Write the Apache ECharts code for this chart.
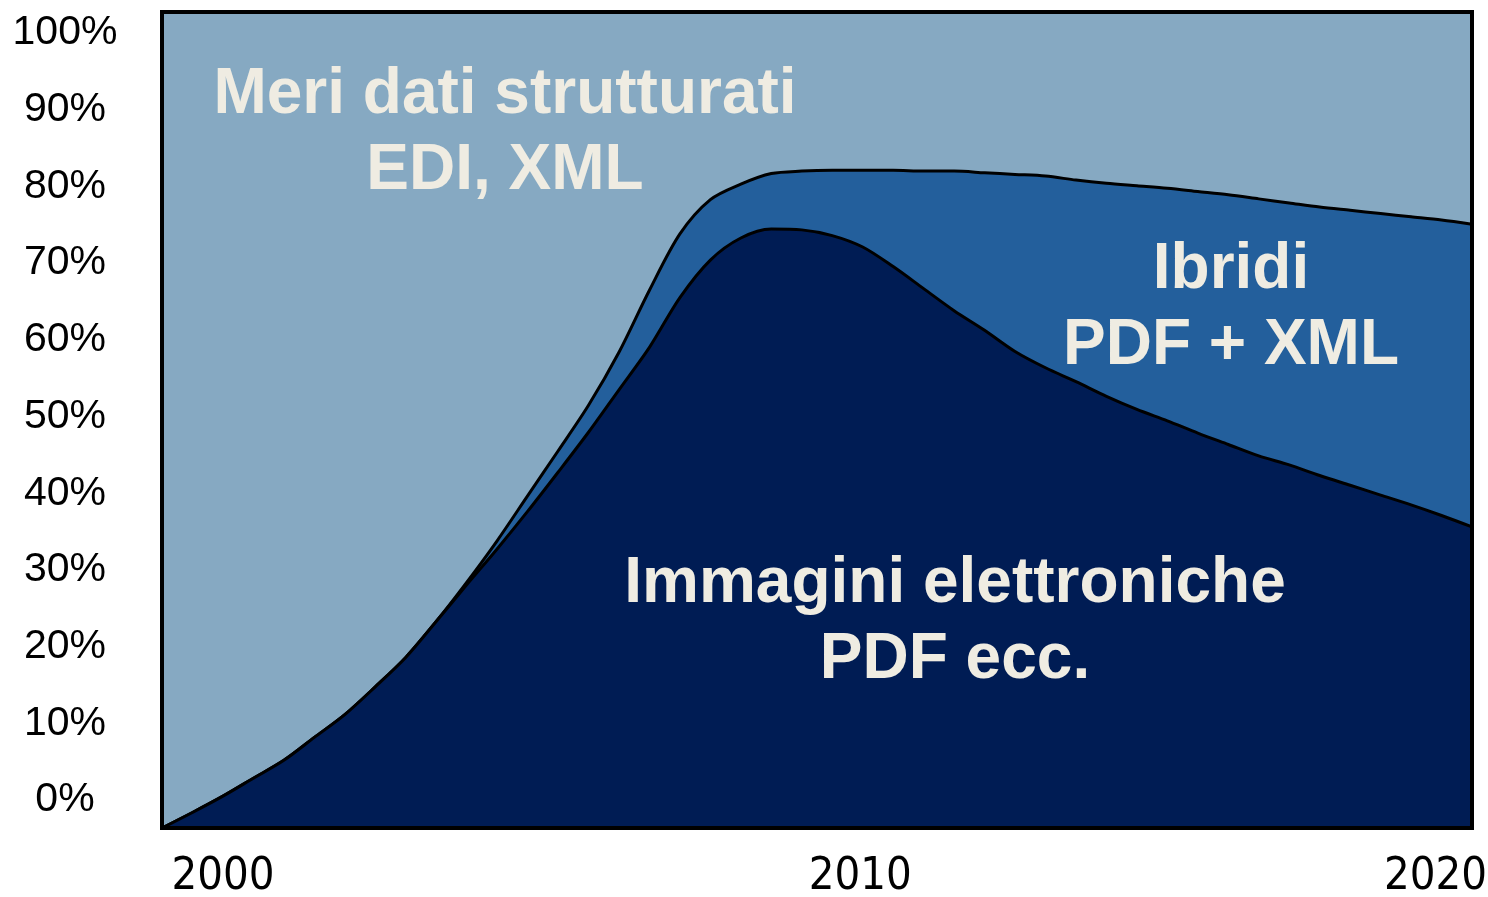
<!DOCTYPE html>
<html>
<head>
<meta charset="utf-8">
<title>Fatture elettroniche</title>
<script src="https://cdn.jsdelivr.net/npm/echarts@6.0.0/dist/echarts.min.js"></script>
<style>
  html, body { margin: 0; padding: 0; background: #fff; }
  #chart { width: 1488px; height: 897px; }
</style>
</head>
<body>
<div id="chart"></div>
<script>
// anni (asse x), passo di mezzo anno
const years = ['1999', '1999.5', '2000', '2000.5', '2001', '2001.5', '2002', '2002.5', '2003', '2003.5',
  '2004', '2004.5', '2005', '2005.5', '2006', '2006.5', '2007', '2007.5', '2008', '2008.5',
  '2009', '2009.5', '2010', '2010.5', '2011', '2011.5', '2012', '2012.5', '2013', '2013.5',
  '2014', '2014.5', '2015', '2015.5', '2016', '2016.5', '2017', '2017.5', '2018', '2018.5',
  '2019', '2019.5', '2020', '2020.5']

// quote in %
const immagini = [0, 1.9, 3.9, 6.1, 8.3, 11.1, 13.9, 17.3, 20.9, 25.3,
  29.8, 34.2, 38.8, 43.6, 48.5, 53.7, 58.9, 65.0, 69.6, 72.3,
  73.4, 73.3, 72.6, 71.2, 68.8, 66.1, 63.4, 61.0, 58.4, 56.4,
  54.7, 52.9, 51.3, 49.9, 48.4, 47.0, 45.6, 44.5, 43.2, 42.0,
  40.8, 39.6, 38.3, 36.9]

const ibridi = [0, 0, 0, 0, 0, 0, 0, 0, 0, 0,
  0.3, 1.0, 1.9, 2.6, 3.3, 4.6, 7.0, 7.8, 7.4, 6.6,
  6.8, 7.2, 8.0, 9.4, 11.8, 14.4, 17.1, 19.3, 21.7, 23.5,
  24.7, 26.1, 27.4, 28.5, 29.6, 30.6, 31.5, 32.1, 32.9, 33.7,
  34.5, 35.3, 36.2, 37.1]

const strutturati = [100, 98.1, 96.1, 93.9, 91.7, 88.9, 86.1, 82.7, 79.1, 74.7,
  69.9, 64.8, 59.3, 53.8, 48.2, 41.7, 34.1, 27.2, 23.0, 21.1,
  19.8, 19.5, 19.4, 19.4, 19.4, 19.5, 19.5, 19.7, 19.9, 20.1,
  20.6, 21.0, 21.3, 21.6, 22.0, 22.4, 22.9, 23.4, 23.9, 24.3,
  24.7, 25.1, 25.5, 26.0]

const yearTicks = ['2000', '2010', '2020']
const percentTicks = [0, 10, 20, 30, 40, 50, 60, 70, 80, 90, 100]

const colors = {
  strutturati: '#86a9c2',
  ibridi: '#235f9c',
  immagini: '#001c54',
  testo: '#efece2'
}

const chart = echarts.init(document.getElementById('chart'))

const labelFont = 'bold 64px "Liberation Sans", Arial, sans-serif'
const narrowFont = '"Liberation Sans Narrow", "DejaVu Sans Condensed", sans-serif'

const option = {
  animation: false,
  grid: {
    left: 162,
    top: 12,
    right: 16,
    bottom: 69,
    show: true,
    z: 10,
    borderColor: '#000',
    borderWidth: 4,
    backgroundColor: 'transparent',
    outerBoundsMode: 'none'
  },
  xAxis: {
    type: 'category',
    boundaryGap: false,
    data: years,
    axisLine: { show: false },
    axisTick: { show: false },
    splitLine: { show: false },
    axisLabel: {
      interval: (i, v) => yearTicks.includes(v),
      margin: 26,
      fontFamily: narrowFont,
      fontSize: 45,
      lineHeight: 46,
      color: '#000',
      formatter: (v) => {
        if (v === '2010') return '{mid|' + v + '}'
        if (v === '2020') return '{end|' + v + '}'
        return v
      },
      rich: {
        mid: {
          fontFamily: narrowFont,
          fontSize: 45,
          lineHeight: 46,
          padding: [0, 0, 0, 56]
        },
        end: {
          fontFamily: narrowFont,
          fontSize: 45,
          lineHeight: 46,
          padding: [0, 12, 0, 0]
        }
      }
    }
  },
  yAxis: [
    {
      type: 'value',
      min: 0,
      max: 100,
      show: false
    },
    {
      // solo etichette, sfalsate come nell'originale
      type: 'value',
      position: 'left',
      min: -3.65,
      max: 102.74,
      axisLine: { show: false },
      axisTick: { show: false },
      splitLine: { show: false },
      axisLabel: {
        customValues: percentTicks,
        formatter: '{value}%',
        align: 'center',
        margin: 97,
        fontFamily: '"Liberation Sans", Arial, sans-serif',
        fontSize: 41,
        color: '#000'
      }
    }
  ],
  series: [
    {
      name: 'Immagini elettroniche',
      type: 'line',
      stack: 'quota',
      z: 5,
      smooth: 0.3,
      symbol: 'none',
      lineStyle: { color: '#000', width: 3 },
      areaStyle: { color: colors.immagini, opacity: 1 },
      data: immagini
    },
    {
      name: 'Ibridi',
      type: 'line',
      stack: 'quota',
      z: 4,
      smooth: 0.3,
      symbol: 'none',
      lineStyle: { color: '#000', width: 3 },
      areaStyle: { color: colors.ibridi, opacity: 1 },
      data: ibridi
    },
    {
      name: 'Meri dati strutturati',
      type: 'line',
      stack: 'quota',
      z: 3,
      smooth: 0.3,
      symbol: 'none',
      lineStyle: { width: 0 },
      areaStyle: { color: colors.strutturati, opacity: 1 },
      data: strutturati
    }
  ],
  graphic: [
    {
      type: 'text',
      x: 505,
      y: 133,
      z: 20,
      style: {
        text: 'Meri dati strutturati\nEDI, XML',
        font: labelFont,
        fill: colors.testo,
        align: 'center',
        verticalAlign: 'middle',
        lineHeight: 76
      }
    },
    {
      type: 'text',
      x: 1231,
      y: 308,
      z: 20,
      style: {
        text: 'Ibridi\nPDF + XML',
        font: labelFont,
        fill: colors.testo,
        align: 'center',
        verticalAlign: 'middle',
        lineHeight: 76
      }
    },
    {
      type: 'text',
      x: 955,
      y: 622,
      z: 20,
      style: {
        text: 'Immagini elettroniche\nPDF ecc.',
        font: labelFont,
        fill: colors.testo,
        align: 'center',
        verticalAlign: 'middle',
        lineHeight: 76
      }
    }
  ]
}

chart.setOption(option)
</script>
</body>
</html>
